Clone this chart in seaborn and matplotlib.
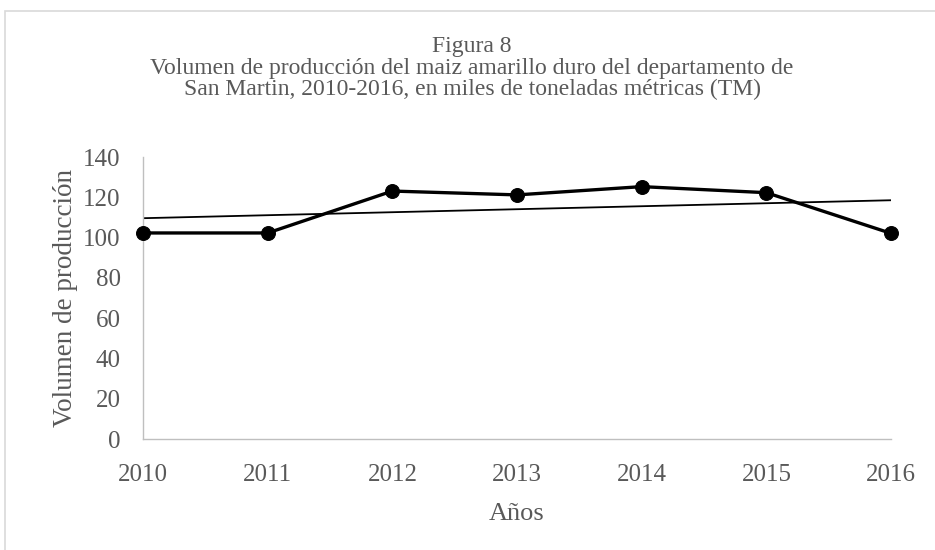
import pandas as pd
import matplotlib.pyplot as plt
import seaborn as sns
from matplotlib.patches import Rectangle

# data (miles de TM)
years = [2010, 2011, 2012, 2013, 2014, 2015, 2016]
volumen = [102.3, 102.3, 123.1, 121.2, 125.3, 122.3, 102.1]
y_ticks = [0, 20, 40, 60, 80, 100, 120, 140]

df = pd.DataFrame({'Año': years, 'Volumen': volumen})

sns.set_style('white')
plt.rcParams['font.family'] = ['Liberation Serif', 'DejaVu Serif']
gris = '#595959'

fig = plt.figure(figsize=(9.35, 5.5), dpi=100)
ax = fig.add_axes([0.153, 0.2018, 0.8, 0.5127])

# outer chart border (cut off at right/bottom like the screenshot)
fig.patches.append(Rectangle((5 / 935, -0.1), 1.2, 1 - 11 / 550 + 0.1,
                             transform=fig.transFigure, fill=False,
                             edgecolor='#d9d9d9', linewidth=1.2))

# linear trend line
sns.regplot(data=df, x='Año', y='Volumen', scatter=False, ci=None, ax=ax,
            line_kws={'color': 'black', 'linewidth': 1.3})
# main series
sns.lineplot(data=df, x='Año', y='Volumen', ax=ax, color='black',
             linewidth=2.4, marker='o', markersize=10, markeredgecolor='black',
             clip_on=False, zorder=5)

ax.set_xlim(2010, 2016)
ax.set_ylim(0, 140)
ax.set_yticks(y_ticks)
ax.set_xticks(years)
ax.set_xticklabels([str(y) for y in years])
ax.tick_params(axis='both', length=0, labelsize=18, labelcolor=gris)
ax.tick_params(axis='x', pad=18)
ax.tick_params(axis='y', pad=16)

for s in ['top', 'right']:
    ax.spines[s].set_visible(False)
for s in ['left', 'bottom']:
    ax.spines[s].set_color('#bfbfbf')
    ax.spines[s].set_linewidth(1.0)

ax.set_xlabel('Años', fontsize=19, color=gris, labelpad=12)
ax.set_ylabel('Volumen de producción', fontsize=19.5, color=gris, labelpad=4)

fig.text(0.505, 0.935, 'Figura 8\nVolumen de producción del maiz amarillo duro del departamento de\n'
         'San Martin, 2010-2016, en miles de toneladas métricas (TM)',
         ha='center', va='top', fontsize=17, color=gris, linespacing=1.05)

fig.savefig('out.png', dpi=100)
